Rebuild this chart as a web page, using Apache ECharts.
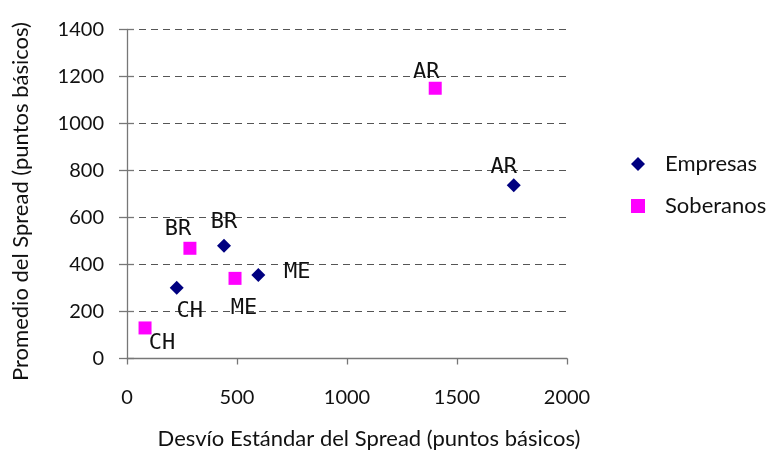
<!DOCTYPE html>
<html>
<head>
<meta charset="utf-8">
<script src="https://cdn.jsdelivr.net/npm/echarts@6/dist/echarts.min.js"></script>
<style>
  html, body { margin: 0; padding: 0; background: #fff; }
  #chart { width: 771px; height: 452px; }
</style>
</head>
<body>
<div id="chart"></div>
<script>
// Country codes for each point
const empresasNames = ['AR', 'BR', 'ME', 'CH'];
const soberanosNames = ['AR', 'BR', 'ME', 'CH'];
// Standard deviation of spread (x) and average spread (y), basis points
const empresasX = [1758, 441, 597, 226];
const empresasY = [737, 480, 355, 301];
const soberanosX = [1401, 286, 491, 82];
const soberanosY = [1150, 469, 341, 130];

// Label placement per point (pixel offsets from the marker centre)
const empresasLabelOffsets = [[-10, -18], [0, -23], [39, -3], [13, 24]];
const soberanosLabelOffsets = [[-9, -16], [-12, -19], [9, 30], [17, 15]];

const textColor = '#111';
const textFont = 'Lato, "DejaVu Sans", sans-serif';
const labelFont = '"DejaVu Sans Mono", monospace';

function buildPoints(names, xs, ys, offsets) {
  return names.map((n, i) => ({
    name: n,
    value: [xs[i], ys[i]],
    label: { offset: offsets[i] }
  }));
}

const pointLabel = {
  show: true,
  position: 'inside',
  formatter: p => p.name,
  color: textColor,
  fontFamily: labelFont,
  fontSize: 22
};

const plain = v => String(v);

const chart = echarts.init(document.getElementById('chart'), null, { renderer: 'canvas' });

chart.setOption({
  animation: false,
  backgroundColor: '#fff',
  grid: { left: 127, right: 204, top: 29.5, bottom: 93.5, containLabel: false, outerBoundsMode: 'none' },
  legend: {
    orient: 'vertical',
    left: 626,
    top: 148,
    itemGap: 20,
    itemWidth: 14,
    itemHeight: 14,
    textStyle: { color: textColor, fontFamily: textFont, fontSize: 22, padding: [0, 0, 0, 15] },
    data: ['Empresas', 'Soberanos']
  },
  xAxis: {
    type: 'value',
    min: 0, max: 2000, interval: 500,
    name: 'Desvío Estándar del Spread (puntos básicos)',
    nameLocation: 'middle',
    nameGap: 69,
    nameTextStyle: { color: textColor, fontFamily: textFont, fontSize: 22, padding: [0, 0, 0, 44] },
    axisLine: { show: true, lineStyle: { color: '#777', width: 1.3 } },
    axisTick: { show: true, length: 6, lineStyle: { color: '#777', width: 1.3 } },
    axisLabel: { color: textColor, fontFamily: textFont, fontSize: 20, margin: 29, formatter: plain },
    splitLine: { show: false }
  },
  yAxis: [{
    type: 'value',
    min: 0, max: 1400, interval: 200,
    name: 'Promedio del Spread (puntos básicos)',
    nameLocation: 'middle',
    nameGap: 95,
    nameTextStyle: { color: textColor, fontFamily: textFont, fontSize: 22, padding: [0, 15, 0, 0] },
    axisLine: { show: true, lineStyle: { color: '#777', width: 1.3 } },
    axisTick: { show: true, length: 8, lineStyle: { color: '#777', width: 1.3 } },
    axisLabel: { color: textColor, fontFamily: textFont, fontSize: 20, margin: 23, formatter: plain },
    splitLine: { show: true, lineStyle: { color: '#555', type: [7, 5], width: 1.2 } }
  }, {
    // inward half of the crossing ticks on the vertical axis
    type: 'value',
    position: 'left',
    min: 0, max: 1400, interval: 200,
    axisLine: { show: false },
    axisTick: { show: true, inside: true, length: 7, lineStyle: { color: '#777', width: 1.3 } },
    axisLabel: { show: false },
    splitLine: { show: false }
  }],
  series: [{
    name: 'Empresas',
    type: 'scatter',
    symbol: 'diamond',
    symbolSize: 14,
    itemStyle: { color: '#000080', opacity: 1 },
    label: pointLabel,
    data: buildPoints(empresasNames, empresasX, empresasY, empresasLabelOffsets)
  }, {
    name: 'Soberanos',
    type: 'scatter',
    symbol: 'rect',
    symbolSize: 13,
    itemStyle: { color: '#ff00ff', opacity: 1 },
    label: pointLabel,
    data: buildPoints(soberanosNames, soberanosX, soberanosY, soberanosLabelOffsets)
  }]
});
</script>
</body>
</html>
